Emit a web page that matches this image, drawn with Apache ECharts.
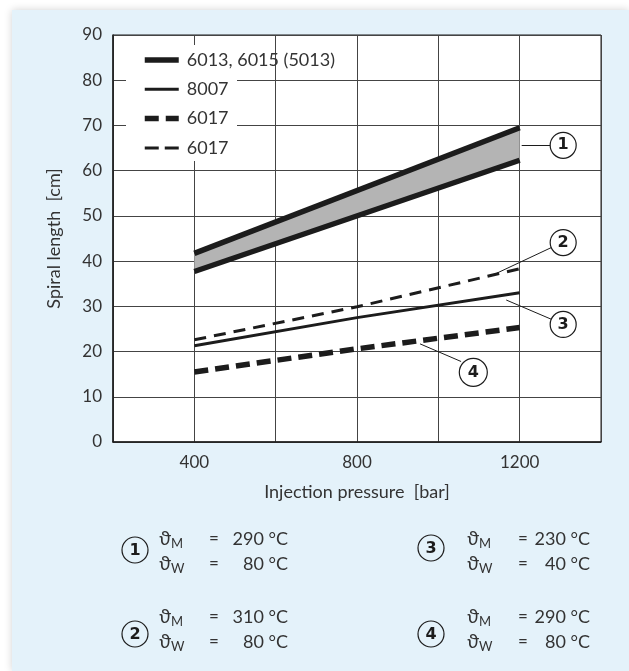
<!DOCTYPE html>
<html>
<head>
<meta charset="utf-8">
<script src="https://cdn.jsdelivr.net/npm/echarts@6/dist/echarts.min.js"></script>
<style>
    html, body { margin: 0; padding: 0; background: #fff; }
    #panel {
        position: absolute; left: 12px; top: 10px; right: 0; bottom: 0;
        background: #e4f2fa; box-shadow: 0 0 8px rgba(0, 0, 0, 0.18);
    }
    #spiral { position: absolute; left: 0; top: 0; width: 629px; height: 671px; }
</style>
</head>
<body>
<div id="panel"></div>
<div id="spiral"></div>
<script>
    // spiral length vs injection pressure

    var pressure = [400, 800, 1200];
    var bandPressure = [400, 1200];

    // 6013, 6015 (5013) - band between two lines
    var bandHigh = [41.7, 69.5];
    var bandLow = [37.7, 62.3];
    // 8007  (3)
    var grade8007 = [21.3, 27.5, 33.0];
    // 6017 thin dashed (2)
    var grade6017a = [22.6, 29.9, 38.3];
    // 6017 thick dashed (4)
    var grade6017b = [15.5, 20.6, 25.3];

    var seriesNames = ['6013, 6015 (5013)', '8007', '6017', '6017 '];
    var xTicks = [400, 800, 1200];

    // notes under the chart
    var noteTags = ['1', '2', '3', '4'];
    var noteMelt = ['290 °C', '310 °C', '230 °C', '290 °C'];
    var noteMould = ['80 °C', '80 °C', '40 °C', '80 °C'];

    var FONT = 'Lato, "DejaVu Sans", sans-serif';
    var INK = '#1c1c1c';
    var TXT = '#333';

    function pairs(xs, ys) {
        var out = [];
        for (var i = 0; i < xs.length; i++) out.push([xs[i], ys[i]]);
        return out;
    }

    // circled numbers in the plot (data coords)
    var callouts = [
        { tag: '1', at: [1307, 65.6], from: [1205, 65.6], to: [1276, 65.6], size: 26 },
        { tag: '2', at: [1307, 44.1], from: [1143, 37.3], to: [1278, 43.0], size: 26 },
        { tag: '3', at: [1307, 26.0], from: [1167, 31.4], to: [1279, 27.1], size: 26 },
        { tag: '4', at: [1086, 15.4], from: [955, 21.7], to: [1056, 17.8], size: 28 }
    ];

    var chart = echarts.init(document.getElementById('spiral'), null, { renderer: 'canvas' });

    var hideSymbol = { color: 'rgba(0,0,0,0)', borderWidth: 0, opacity: 0 };

    var graphics = [{
        type: 'rect', z: 1, silent: true,
        shape: { x: 126, y: 45, width: 111, height: 116 },
        style: { fill: '#fff' }
    }];

    // layout of the notes blocks
    var noteBlocks = [
        { cx: 135, cy: 550, tx: 159, eq: 214, vr: 288, rows: [539, 564] },
        { cx: 135, cy: 634, tx: 159, eq: 214, vr: 288, rows: [617, 642] },
        { cx: 431, cy: 548, tx: 467, eq: 523, vr: 590, rows: [539, 564] },
        { cx: 431, cy: 634, tx: 467, eq: 523, vr: 590, rows: [617, 642] }
    ];
    noteBlocks.forEach(function (b, i) {
        graphics.push({
            type: 'circle', shape: { cx: b.cx, cy: b.cy, r: 13 },
            style: { fill: 'none', stroke: INK, lineWidth: 1.2 }
        });
        graphics.push({
            type: 'text', x: b.cx, y: b.cy + 1,
            style: { text: noteTags[i], font: 'bold 16px "DejaVu Sans"', fill: INK, textAlign: 'center', textVerticalAlign: 'middle' }
        });
        var subs = ['M', 'W'];
        var vals = [noteMelt[i], noteMould[i]];
        for (var r = 0; r < 2; r++) {
            var y = b.rows[r];
            graphics.push({ type: 'text', x: b.tx, y: y, style: { text: 'ϑ', font: '19px ' + FONT, fill: TXT, textAlign: 'left', textVerticalAlign: 'middle' } });
            graphics.push({ type: 'text', x: b.tx + 12, y: y + 5, style: { text: subs[r], font: '13px ' + FONT, fill: TXT, textAlign: 'left', textVerticalAlign: 'middle' } });
            graphics.push({ type: 'text', x: b.eq, y: y, style: { text: '=', font: '17px ' + FONT, fill: TXT, textAlign: 'center', textVerticalAlign: 'middle' } });
            graphics.push({ type: 'text', x: b.vr, y: y, style: { text: vals[r], font: '18px ' + FONT, fill: TXT, textAlign: 'right', textVerticalAlign: 'middle' } });
        }
    });

    // grey fill between the two band lines
    var bandRows = [];
    for (var k = 0; k < bandPressure.length; k++) bandRows.push([bandPressure[k], bandLow[k], bandHigh[k]]);

    function renderBand(params, api) {
        var i = params.dataIndex;
        if (i >= bandRows.length - 1) return;
        var a = bandRows[i], b = bandRows[i + 1];
        var pts = [
            api.coord([a[0], a[1]]), api.coord([b[0], b[1]]),
            api.coord([b[0], b[2]]), api.coord([a[0], a[2]])
        ];
        return { type: 'polygon', shape: { points: pts }, style: { fill: '#b4b4b4' } };
    }

    var option = {
        animation: false,
        backgroundColor: 'transparent',
        textStyle: { fontFamily: FONT },
        grid: {
            left: 113, right: 28, top: 35, bottom: 229,
            show: true, backgroundColor: '#fff', borderColor: INK, borderWidth: 1,
            containLabel: false, outerBoundsMode: 'none'
        },
        legend: {
            orient: 'vertical', left: 137, top: 46,
            itemWidth: 34, itemHeight: 14, itemGap: 11.3,
            selectedMode: false,
            textStyle: { fontSize: 18, color: TXT, padding: [0, 0, 0, 3] },
            formatter: function (n) { return n.trim(); },
            data: [
                { name: seriesNames[0], lineStyle: { width: 5.5, type: 'solid', color: INK }, itemStyle: hideSymbol },
                { name: seriesNames[1], lineStyle: { width: 3, type: 'solid', color: INK }, itemStyle: hideSymbol },
                { name: seriesNames[2], lineStyle: { width: 5.5, type: [14, 7], color: INK }, itemStyle: hideSymbol },
                { name: seriesNames[3], lineStyle: { width: 3, type: [14, 6], color: INK }, itemStyle: hideSymbol }
            ]
        },
        xAxis: {
            type: 'value', min: 200, max: 1400, interval: 200,
            name: 'Injection pressure  [bar]', nameLocation: 'middle', nameGap: 41,
            nameTextStyle: { fontSize: 18, color: TXT },
            axisLine: { lineStyle: { color: INK, width: 1.5 } },
            axisTick: { show: false },
            axisLabel: {
                fontSize: 17, color: TXT, margin: 12,
                formatter: function (v) { return xTicks.indexOf(v) >= 0 ? String(v) : ''; }
            },
            splitLine: { show: true, lineStyle: { color: '#444', width: 1 } }
        },
        yAxis: {
            type: 'value', min: 0, max: 90, interval: 10,
            name: 'Spiral length  [cm]', nameLocation: 'middle', nameGap: 50,
            nameTextStyle: { fontSize: 18, color: TXT },
            axisLine: { lineStyle: { color: INK, width: 1.5 } },
            axisTick: { show: false },
            axisLabel: { fontSize: 17, color: TXT, margin: 11 },
            splitLine: { show: true, lineStyle: { color: '#444', width: 1 } }
        },
        graphic: graphics,
        series: [
            {
                name: 'band-fill', type: 'custom', z: 2, silent: true,
                renderItem: renderBand,
                encode: { x: 0, y: [1, 2] },
                data: bandRows
            },
            {
                name: seriesNames[0], type: 'line', symbol: 'none', z: 3,
                data: pairs(bandPressure, bandLow),
                lineStyle: { color: INK, width: 5.5, cap: 'butt' }
            },
            {
                name: 'band-top', type: 'line', symbol: 'none', z: 3,
                data: pairs(bandPressure, bandHigh),
                lineStyle: { color: INK, width: 5.5, cap: 'butt' }
            },
            {
                name: seriesNames[1], type: 'line', symbol: 'none', z: 3,
                data: pairs(pressure, grade8007),
                lineStyle: { color: INK, width: 3, cap: 'butt' },
                markLine: {
                    silent: true, symbol: ['none', 'none'], label: { show: false },
                    lineStyle: { color: INK, width: 1, type: 'solid' },
                    data: callouts.map(function (c) { return [{ coord: c.from }, { coord: c.to }]; })
                },
                markPoint: {
                    silent: true, symbol: 'circle',
                    itemStyle: { color: '#fff', borderColor: INK, borderWidth: 1.2 },
                    label: { show: true, formatter: '{b}', color: INK, fontSize: 16, fontWeight: 'bold', fontFamily: '"DejaVu Sans"' },
                    data: callouts.map(function (c) { return { name: c.tag, coord: c.at, symbolSize: c.size }; })
                }
            },
            {
                name: seriesNames[2], type: 'line', symbol: 'none', z: 3,
                data: pairs(pressure, grade6017b),
                lineStyle: { color: INK, width: 5.5, type: [14, 7], cap: 'butt' }
            },
            {
                name: seriesNames[3], type: 'line', symbol: 'none', z: 3,
                data: pairs(pressure, grade6017a),
                lineStyle: { color: INK, width: 3, type: [12, 8], cap: 'butt' }
            }
        ]
    };

    chart.setOption(option);
</script>
</body>
</html>
